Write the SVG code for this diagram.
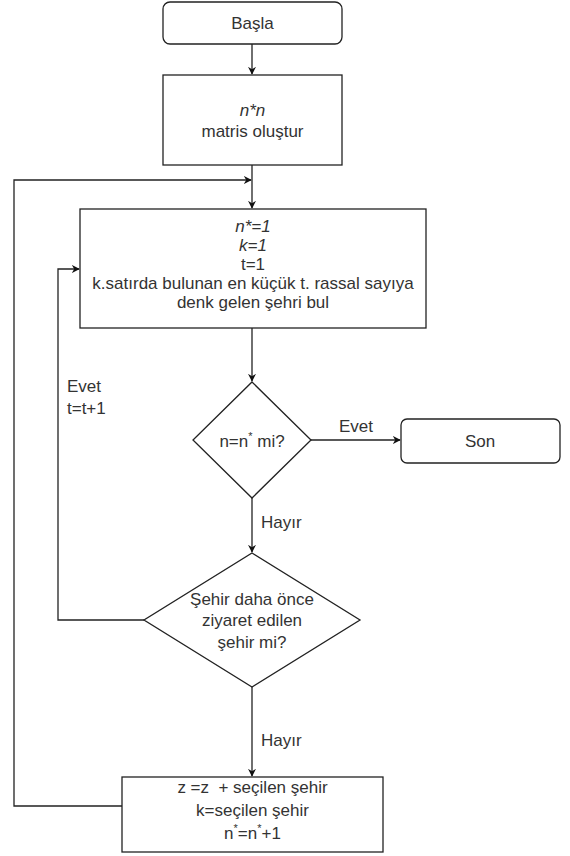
<svg xmlns="http://www.w3.org/2000/svg" width="570" height="856" viewBox="0 0 570 856">
<defs>
<style>
.n{fill:#fff;stroke:#222;stroke-width:1.3}
.c{fill:none;stroke:#222;stroke-width:1.3}
text{font-family:"Liberation Sans",Arial,sans-serif;font-size:17px;fill:#333;text-anchor:middle}
.i{font-style:italic}
.l{text-anchor:start}
.s{font-size:11px}
</style>
<marker id="a" viewBox="0 0 10 10" refX="9" refY="5" markerWidth="8" markerHeight="8" orient="auto" markerUnits="userSpaceOnUse">
<path d="M0,0 L10,5 L0,10 L3,5 Z" fill="#111"/>
</marker>
</defs>
<rect width="570" height="856" fill="#fff"/>
<g id="connectors">
<path class="c" d="M252,44 V74" marker-end="url(#a)"/>
<path class="c" d="M252,165 V208" marker-end="url(#a)"/>
<path class="c" d="M122,806 H14 V180 H251" marker-end="url(#a)"/>
<path class="c" d="M252,328 V381" marker-end="url(#a)"/>
<path class="c" d="M311,440 H400" marker-end="url(#a)"/>
<path class="c" d="M252,498 V552" marker-end="url(#a)"/>
<path class="c" d="M144,620 H58 V269 H79" marker-end="url(#a)"/>
<path class="c" d="M252,687 V776" marker-end="url(#a)"/>
<text x="356" y="432">Evet</text>
<text class="l" x="261" y="528">Hayır</text>
<text class="l" x="261" y="746">Hayır</text>
<text class="l" x="67" y="392">Evet</text>
<text class="l" x="67" y="414">t=t+1</text>
</g>
<g id="basla">
<rect class="n" x="163" y="2" width="179" height="42" rx="7"/>
<text x="252.5" y="29">Başla</text>
</g>
<g id="matris">
<rect class="n" x="163" y="75" width="179" height="90"/>
<text class="i" x="252.5" y="116">n*n</text>
<text x="252.5" y="137">matris oluştur</text>
</g>
<g id="main">
<rect class="n" x="80" y="209" width="346" height="119"/>
<text class="i" x="253" y="232">n*=1</text>
<text class="i" x="253" y="251">k=1</text>
<text x="253" y="270">t=1</text>
<text x="253" y="289">k.satırda bulunan en küçük t. rassal sayıya</text>
<text x="253" y="308">denk gelen şehri bul</text>
</g>
<g id="karar1">
<path class="n" d="M252,382 L311,440 L252,498 L193,440 Z"/>
<text x="252" y="447">n=n<tspan class="s" dy="-7">*</tspan><tspan dy="7"> mi?</tspan></text>
</g>
<g id="son">
<rect class="n" x="401" y="419" width="159" height="44" rx="6"/>
<text x="480" y="447">Son</text>
</g>
<g id="karar2">
<path class="n" d="M252,553 L360,620 L252,687 L144,620 Z"/>
<text x="252" y="605">Şehir daha önce</text>
<text x="252" y="626">ziyaret edilen</text>
<text x="252" y="648">şehir mi?</text>
</g>
<g id="guncelle">
<rect class="n" x="122" y="777" width="261" height="75"/>
<text x="252.5" y="793" xml:space="preserve">z =z  + seçilen şehir</text>
<text x="252.5" y="816">k=seçilen şehir</text>
<text x="252.5" y="839">n<tspan class="s" dy="-7">*</tspan><tspan dy="7">=n</tspan><tspan class="s" dy="-7">*</tspan><tspan dy="7">+1</tspan></text>
</g>
</svg>
